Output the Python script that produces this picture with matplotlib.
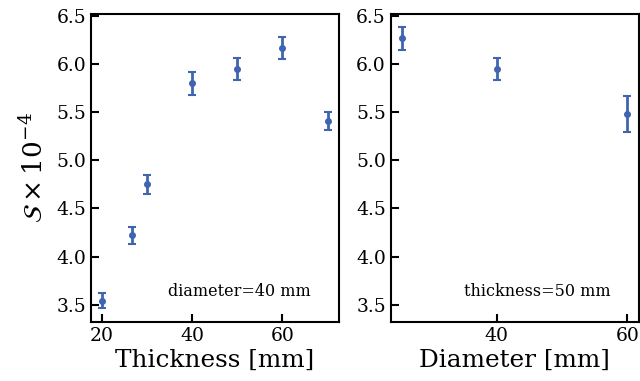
import matplotlib
matplotlib.use("Agg")
import matplotlib.pyplot as plt
import numpy as np

plt.rcParams['font.family'] = 'DejaVu Serif'
plt.rcParams['mathtext.fontset'] = 'dejavuserif'

# thickness scan (diameter = 40 mm)
thick = np.array([20, 26.6, 30, 40, 50, 60, 70])
s_thick = np.array([3.54, 4.22, 4.75, 5.80, 5.95, 6.17, 5.41])
e_thick = np.array([0.08, 0.09, 0.10, 0.12, 0.11, 0.115, 0.09])

# diameter scan (thickness = 50 mm)
diam = np.array([25.5, 40, 60])
s_diam = np.array([6.27, 5.95, 5.48])
e_diam = np.array([0.12, 0.11, 0.185])

col = '#4065b0'

fig, (ax1, ax2) = plt.subplots(1, 2, figsize=(6.4, 3.81), dpi=100)
fig.subplots_adjust(left=0.142, right=0.998, bottom=0.155, top=0.963, wspace=0.21)

ax1.errorbar(thick, s_thick, yerr=e_thick, fmt='o', color=col, ms=4,
             elinewidth=2, capsize=3, capthick=1.5)
ax2.errorbar(diam, s_diam, yerr=e_diam, fmt='o', color=col, ms=4,
             elinewidth=2, capsize=3, capthick=1.5)

ax1.set_xlabel('Thickness [mm]', fontsize=17.8, labelpad=3)
ax2.set_xlabel('Diameter [mm]', fontsize=17.8, labelpad=3)
ax1.set_ylabel(r'$\mathcal{S}\times10^{-4}$', fontsize=19, labelpad=6)

ax1.text(0.6, 0.1, 'diameter=40 mm', transform=ax1.transAxes, ha='center', va='center', fontsize=11.5)
ax2.text(0.59, 0.1, 'thickness=50 mm', transform=ax2.transAxes, ha='center', va='center', fontsize=11.5)

for ax in (ax1, ax2):
    ax.set_ylim(3.32, 6.52)
    ax.set_yticks([3.5, 4.0, 4.5, 5.0, 5.5, 6.0, 6.5])
    ax.tick_params(direction='in', length=6, width=1.5, labelsize=13.5)
    for sp in ax.spines.values():
        sp.set_linewidth(1.5)

ax1.set_xticks([20, 40, 60])
ax2.set_xticks([40, 60])

fig.savefig('out.png', dpi=100)
